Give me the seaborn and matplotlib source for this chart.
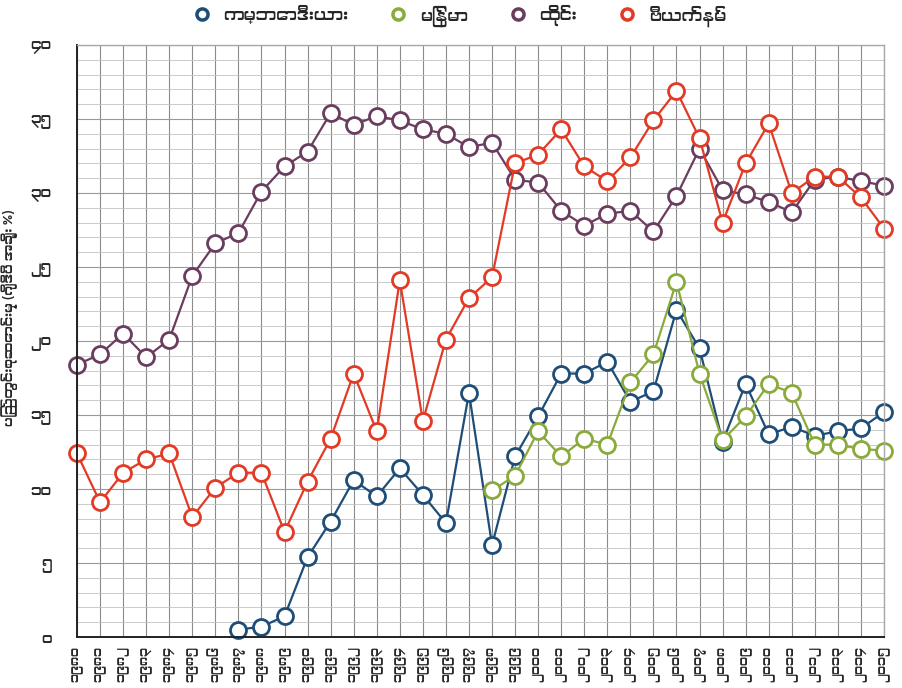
import numpy as np
import pandas as pd
import seaborn as sns
import matplotlib
matplotlib.use("Agg")
import matplotlib.pyplot as plt
from matplotlib import font_manager
from matplotlib.lines import Line2D
from matplotlib.ticker import MultipleLocator

# Domestic savings as a share of GDP (%)
years = list(range(1980, 2016))

cambodia_years = list(range(1987, 2016))
cambodia = [0.5, 0.7, 1.4, 5.4, 7.8, 10.6, 9.5, 11.4, 9.6, 7.7, 16.5,
            6.2, 12.2, 14.9, 17.8, 17.8, 18.6, 15.9, 16.6, 22.1, 19.5,
            13.2, 17.1, 13.7, 14.2, 13.6, 13.9, 14.1, 15.2]

myanmar_years = list(range(1998, 2016))
myanmar = [9.9, 10.9, 13.9, 12.2, 13.4, 13.0, 17.2, 19.1, 24.0, 17.8,
           13.3, 14.9, 17.1, 16.5, 13.0, 13.0, 12.7, 12.6]

thailand = [18.4, 19.1, 20.5, 18.9, 20.1, 24.4, 26.6, 27.3, 30.1, 31.8,
            32.8, 35.4, 34.6, 35.2, 34.9, 34.3, 34.0, 33.1, 33.4, 30.9,
            30.7, 28.8, 27.8, 28.6, 28.8, 27.4, 29.8, 33.0, 30.2, 29.9,
            29.4, 28.7, 30.9, 31.1, 30.8, 30.5]

vietnam = [12.4, 9.1, 11.1, 12.0, 12.4, 8.1, 10.1, 11.1, 11.1, 7.1,
           10.5, 13.4, 17.8, 13.9, 24.1, 14.6, 20.1, 22.9, 24.3, 32.0,
           32.6, 34.3, 31.8, 30.8, 32.4, 34.9, 36.9, 33.7, 28.0, 32.0,
           34.7, 30.0, 31.1, 31.1, 29.7, 27.6]

countries = ["ကမ္ဘောဒီးယား", "မြန်မာ", "ထိုင်း", "ဗီယက်နမ်"]
colors = ["#1e4d78", "#8aaa3c", "#6a3d5f", "#e23a25"]
y_label = "ပြည်တွင်းစုဆောင်းမှု (ဂျီဒီပီ အချိုး %)"

MM_DIGITS = str.maketrans("0123456789", "၀၁၂၃၄၅၆၇၈၉")


def to_mm(n):
    return str(n).translate(MM_DIGITS)


def find_myanmar_font():
    for f in font_manager.fontManager.ttflist:
        if "Myanmar" in f.name or "Padauk" in f.name:
            return f.name
    try:
        from fontTools.ttLib import TTFont
    except Exception:
        return None
    seen = set()
    for f in font_manager.fontManager.ttflist:
        if f.fname in seen:
            continue
        seen.add(f.fname)
        try:
            tt = TTFont(f.fname, fontNumber=0, lazy=True)
            cmap = tt.getBestCmap()
            if cmap and 0x1000 in cmap and 0x1039 in cmap:
                return f.name
        except Exception:
            pass
    return None


sns.set_theme(style="white")
mm_font = find_myanmar_font()
families = ([mm_font] if mm_font else []) + ["DejaVu Sans"]
plt.rcParams["font.family"] = families

frames = [
    pd.DataFrame({"year": cambodia_years, "value": cambodia, "country": countries[0]}),
    pd.DataFrame({"year": myanmar_years, "value": myanmar, "country": countries[1]}),
    pd.DataFrame({"year": years, "value": thailand, "country": countries[2]}),
    pd.DataFrame({"year": years, "value": vietnam, "country": countries[3]}),
]
df = pd.concat(frames, ignore_index=True)

fig = plt.figure(figsize=(9.02, 6.88), dpi=100, facecolor="white")
ax = fig.add_axes([0.0854, 0.0741, 0.8946, 0.8605])
ax.set_facecolor("white")

# grid: one vertical line per year, fine horizontal lines every unit
ax.set_xlim(1980, 2015)
ax.set_ylim(0, 40)
ax.xaxis.set_major_locator(MultipleLocator(1))
ax.yaxis.set_major_locator(MultipleLocator(5))
ax.yaxis.set_minor_locator(MultipleLocator(1))
ax.grid(which="major", axis="x", color="#8c8c8c", linewidth=0.8)
ax.grid(which="major", axis="y", color="#999999", linewidth=0.8)
ax.grid(which="minor", axis="y", color="#c2c2c2", linewidth=0.6)
ax.set_axisbelow(True)

sns.lineplot(
    data=df, x="year", y="value", hue="country", hue_order=countries,
    palette=colors, marker="o", markersize=11.5, markerfacecolor="white",
    markeredgewidth=2.0, linewidth=1.6, legend=False, ax=ax,
)
for line, c in zip(ax.get_lines(), colors):
    line.set_markeredgecolor(c)
    line.set_clip_on(False)

ax.set_xticks(years)
ax.set_xticklabels([to_mm(y) for y in years], rotation=90, fontsize=9)
ax.set_yticks(range(0, 41, 5))
ax.set_yticklabels([to_mm(v) for v in range(0, 41, 5)], fontsize=10.5)
ax.tick_params(axis="both", which="major", direction="inout", length=9,
               width=1.2, color="#222222", pad=3)
ax.tick_params(axis="x", which="major", pad=2)
ax.tick_params(axis="y", which="major", pad=14)
ax.tick_params(axis="y", which="minor", length=0)
ax.set_xlabel("")
ax.set_ylabel(y_label, fontsize=9.5)
ax.yaxis.set_label_coords(-0.073, 0.54)

for side in ["left", "bottom"]:
    ax.spines[side].set_color("#222222")
    ax.spines[side].set_linewidth(1.4)
for side in ["top", "right"]:
    ax.spines[side].set_color("#a8a8a8")
    ax.spines[side].set_linewidth(1.0)

handles = [
    Line2D([], [], linestyle="none", marker="o", markersize=8,
           markerfacecolor="white", markeredgecolor=c, markeredgewidth=2.5)
    for c in colors
]
fig.legend(handles, countries, loc="center", bbox_to_anchor=(0.505, 0.977),
           ncol=4, frameon=False, fontsize=12, handletextpad=0.3,
           columnspacing=2.0)

fig.savefig("out.png", dpi=100, facecolor="white")
